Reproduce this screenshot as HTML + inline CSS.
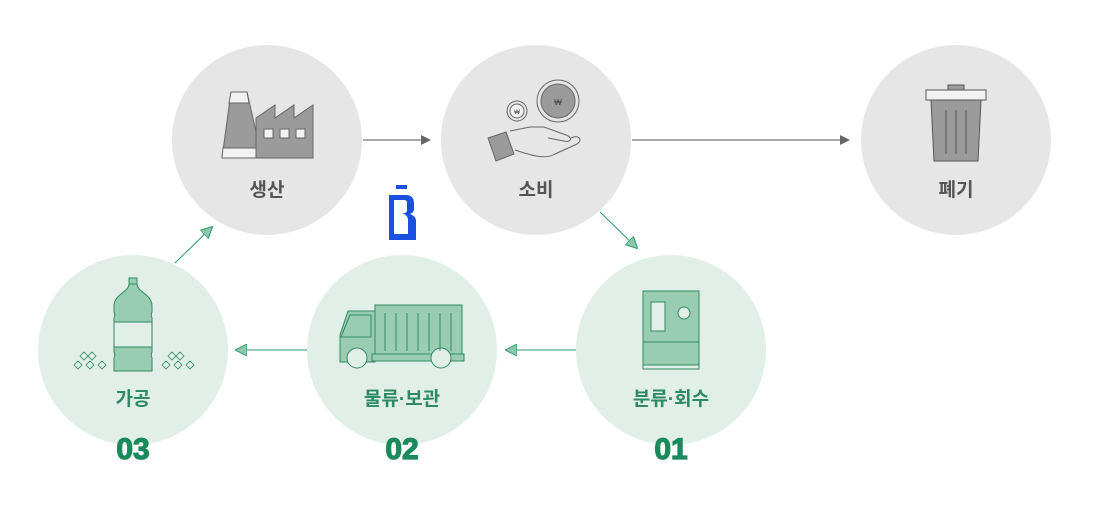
<!DOCTYPE html><html><head><meta charset="utf-8"><style>body{margin:0;background:#fff}svg{display:block}text{font-family:"Liberation Sans","Noto Sans CJK KR",sans-serif}</style></head><body>
<svg width="1101" height="508" viewBox="0 0 1101 508">
<defs>
<marker id="ag" markerWidth="10" markerHeight="10" refX="9" refY="5" orient="auto" markerUnits="userSpaceOnUse"><path d="M0,0L10,5L0,10z" fill="#666"/></marker>
<marker id="agr" markerWidth="12" markerHeight="12" refX="11" refY="6" orient="auto" markerUnits="userSpaceOnUse"><path d="M0,0L12,6L0,12z" fill="#8cc7a9" stroke="#2e9a6d" stroke-width="1"/></marker>
</defs>
<g fill="#e6e6e6"><circle cx="267" cy="140" r="95"/><circle cx="536" cy="140" r="95"/><circle cx="956" cy="140" r="95"/></g>
<g fill="#e2efe8"><circle cx="133" cy="350" r="95"/><circle cx="402" cy="350" r="95"/><circle cx="671" cy="350" r="95"/></g>
<g stroke="#555" stroke-width="1"><line x1="363" y1="140" x2="430" y2="140" marker-end="url(#ag)"/><line x1="632" y1="140" x2="849" y2="140" marker-end="url(#ag)"/></g>
<g stroke="#2e9a6d" stroke-width="1"><line x1="600" y1="212" x2="637" y2="248" marker-end="url(#agr)"/><line x1="576" y1="350" x2="506" y2="350" marker-end="url(#agr)"/><line x1="307" y1="350" x2="236" y2="350" marker-end="url(#agr)"/><line x1="175" y1="263" x2="212" y2="227" marker-end="url(#agr)"/></g>
<!-- factory -->
<g stroke="#666" stroke-width="1"><path d="M231,92h16l15,66h-40z" fill="#9b9b9b"/><path d="M231,92h16l2,11h-20z" fill="#f2f2f2"/><path d="M223,148h38l1,10h-40z" fill="#f2f2f2"/><path d="M256,118l19,-13v13l19,-13v13l19,-13v53h-57z" fill="#9b9b9b"/><rect x="264" y="129" width="9" height="9" fill="#f2f2f2"/><rect x="280" y="129" width="9" height="9" fill="#f2f2f2"/><rect x="296" y="129" width="9" height="9" fill="#f2f2f2"/></g>
<!-- coins & hand -->
<g stroke="#666" stroke-width="1" fill="none"><circle cx="558" cy="101" r="21"/><circle cx="558" cy="101" r="17" fill="#9b9b9b"/><circle cx="517" cy="111" r="10"/><circle cx="517" cy="111" r="7" fill="#f2f2f2"/><path d="M510,131l20,-4h14l22,8c8,3 4,8 -2,6l-16,-3"/><path d="M515,150c15,5 30,10 40,4l22,-10c6,-4 2,-10 -6,-6"/><path d="M488,138l18,-6l8,22l-18,7z" fill="#9b9b9b"/></g>
<g font-size="8" fill="#444" text-anchor="middle"><text x="558" y="105">₩</text><text x="517" y="114" font-size="6">₩</text></g>
<!-- trash -->
<g stroke="#555" stroke-width="1"><rect x="948" y="85" width="16" height="5" fill="#9b9b9b"/><rect x="926" y="90" width="60" height="10" fill="#f2f2f2"/><path d="M931,100h50l-3,61h-44z" fill="#9b9b9b"/><path d="M946,110v44M956,110v44M966,110v44" fill="none"/></g>
<!-- bottle -->
<g stroke="#2e8a62" stroke-width="1" fill="#99cdb2"><rect x="129" y="278" width="8" height="6"/><path d="M129,284h8c0,8 15,10 15,22v6c-1,2 -1,4 0,6v34c-1,2 -1,4 0,6v13h-38v-13c1,-2 1,-4 0,-6v-34c1,-2 1,-4 0,-6v-6c0,-12 15,-14 15,-22z"/><rect x="114" y="322" width="38" height="25" fill="#e2efe8"/></g>
<g stroke="#2e8a62" stroke-width="0.8" fill="none">
<path d="M84,353l4,4l-4,4l-4,-4zM92,353l4,4l-4,4l-4,-4zM78,362l4,4l-4,4l-4,-4zM90,362l4,4l-4,4l-4,-4zM102,362l4,4l-4,4l-4,-4z" transform="translate(0,-1)"/>
<path d="M84,353l4,4l-4,4l-4,-4zM92,353l4,4l-4,4l-4,-4zM78,362l4,4l-4,4l-4,-4zM90,362l4,4l-4,4l-4,-4zM102,362l4,4l-4,4l-4,-4z" transform="translate(88,-1)"/></g>
<!-- truck -->
<g stroke="#2e8a62" stroke-width="1" fill="#99cdb2"><rect x="375" y="305" width="87" height="51"/><path d="M348,311h27v51h-35v-27z"/><path d="M350,315h21v22h-30z" fill="#99cdb2"/><rect x="372" y="354" width="92" height="7"/><circle cx="357" cy="358" r="10" fill="#e2efe8"/><circle cx="441" cy="358" r="10" fill="#e2efe8"/><path d="M385,313v38M396,313v38M407,313v38M418,313v38M429,313v38M440,313v38M451,313v38" fill="none"/></g>
<!-- kiosk -->
<g stroke="#2e8a62" stroke-width="1" fill="#99cdb2"><rect x="643" y="291" width="56" height="78"/><rect x="651" y="302" width="14" height="29" fill="#e2efe8"/><circle cx="684" cy="313" r="6" fill="#e2efe8"/><line x1="643" y1="342" x2="699" y2="342"/><rect x="643" y="365" width="56" height="4" fill="#e2efe8"/></g>
<!-- B logo -->
<g fill="#1a4fe0"><rect x="396" y="185" width="11" height="4"/><path d="M389,195h17c5,0 8,3 8,8v6c0,3 -2,4 -4,5c3,1 6,3 6,7v19h-27z"/><path d="M394,200h10c2,0 3,1 3,3v7c0,2 -1,3 -3,3h-2c3,1 6,3 6,7v14h-14z" fill="#fff"/></g>
<!-- labels -->
<g font-size="19" font-weight="bold" text-anchor="middle" fill="#555"><text x="267" y="196">생산</text><text x="536" y="196">소비</text><text x="956" y="196">폐기</text></g>
<g font-size="19" font-weight="bold" text-anchor="middle" fill="#2e8a62"><text x="133" y="405">가공</text><text x="402" y="405">물류·보관</text><text x="671" y="405">분류·회수</text></g>
<g font-size="30" font-weight="bold" text-anchor="middle" fill="#1a8a5c" stroke="#1a8a5c" stroke-width="1.2"><text x="133" y="459">03</text><text x="402" y="459">02</text><text x="671" y="459">01</text></g>
</svg></body></html>
